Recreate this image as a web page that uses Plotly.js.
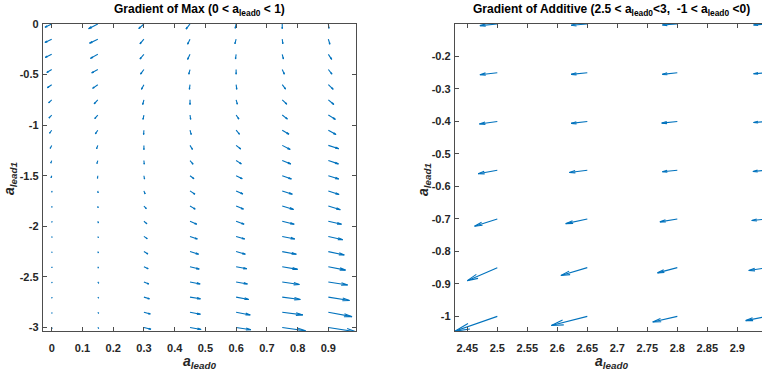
<!DOCTYPE html>
<html><head><meta charset="utf-8">
<script src="https://cdn.plot.ly/plotly-3.0.1.min.js"></script>
<style>html,body{margin:0;padding:0;overflow:hidden;background:#fff}#plot{width:780px;height:377px}</style>
</head><body><div id="plot"></div>
<script>
// ---------- Left panel: Gradient of Max ----------
const maxX = [0, 0.15, 0.3, 0.45, 0.6, 0.75, 0.9];
const maxY = [0,-0.15,-0.3,-0.45,-0.6,-0.75,-0.9,-1.05,-1.2,-1.35,-1.5,-1.65,-1.8,-1.95,-2.1,-2.25,-2.4,-2.55,-2.7,-2.85,-3.0];
// U, V per column (rows follow maxY)
const maxU = [
  [-0.022,-0.022,-0.021,-0.016,-0.014,-0.010,-0.009,-0.007,-0.005,-0.003,-0.002,0.001,0.001,0.001,0.001,0.001,0.001,0.001,0.001,0.001,0.001],
  [-0.030,-0.027,-0.024,-0.020,-0.017,-0.012,-0.010,-0.008,-0.004,-0.003,-0.001,0.001,0.001,0.002,0.002,0.002,0.002,0.003,0.003,0.003,0.003],
  [-0.017,-0.013,-0.013,-0.011,-0.008,-0.004,-0.003,-0.001,0,0.001,0.002,0.004,0.008,0.010,0.011,0.013,0.014,0.016,0.018,0.021,0.023],
  [-0.013,-0.008,-0.008,-0.004,-0.002,0,0.002,0.004,0.008,0.010,0.013,0.016,0.017,0.022,0.024,0.028,0.030,0.033,0.034,0.034,0.036],
  [-0.003,-0.004,-0.002,0,0.002,0.004,0.009,0.011,0.015,0.017,0.020,0.022,0.024,0.026,0.028,0.030,0.035,0.037,0.041,0.046,0.048],
  [0,0.002,0.004,0.007,0.011,0.015,0.017,0.022,0.026,0.028,0.030,0.033,0.037,0.039,0.041,0.046,0.050,0.056,0.059,0.067,0.076],
  [0.002,0.005,0.011,0.012,0.016,0.018,0.023,0.025,0.034,0.033,0.034,0.035,0.039,0.043,0.047,0.052,0.056,0.063,0.069,0.077,0.090]
];
const maxV = [
  [-0.033,-0.033,-0.030,-0.030,-0.030,-0.030,-0.030,-0.030,-0.030,-0.026,-0.020,-0.013,-0.013,-0.010,-0.010,-0.010,-0.010,-0.010,-0.010,-0.010,-0.010],
  [-0.046,-0.040,-0.040,-0.033,-0.036,-0.040,-0.036,-0.036,-0.033,-0.030,-0.026,-0.020,-0.017,-0.017,-0.013,-0.013,-0.013,-0.013,-0.010,-0.010,-0.010],
  [-0.046,-0.046,-0.046,-0.046,-0.046,-0.046,-0.043,-0.043,-0.043,-0.036,-0.033,-0.030,-0.026,-0.026,-0.023,-0.023,-0.020,-0.020,-0.017,-0.017,-0.017],
  [-0.050,-0.050,-0.050,-0.046,-0.046,-0.046,-0.043,-0.043,-0.040,-0.036,-0.030,-0.033,-0.030,-0.030,-0.026,-0.026,-0.023,-0.020,-0.017,-0.020,-0.020],
  [-0.043,-0.046,-0.046,-0.046,-0.046,-0.043,-0.040,-0.040,-0.036,-0.033,-0.030,-0.030,-0.030,-0.030,-0.026,-0.026,-0.020,-0.020,-0.023,-0.026,-0.023],
  [-0.046,-0.046,-0.046,-0.046,-0.043,-0.043,-0.040,-0.040,-0.040,-0.033,-0.033,-0.033,-0.033,-0.030,-0.026,-0.026,-0.026,-0.026,-0.023,-0.026,-0.033],
  [-0.043,-0.050,-0.050,-0.046,-0.046,-0.046,-0.043,-0.043,-0.033,-0.033,-0.033,-0.036,-0.036,-0.030,-0.033,-0.033,-0.033,-0.030,-0.033,-0.043,-0.043]
];
const maxXTicks = [0,0.1,0.2,0.3,0.4,0.5,0.6,0.7,0.8,0.9];
const maxXTickText = ['0','0.1','0.2','0.3','0.4','0.5','0.6','0.7','0.8','0.9'];
const maxYTicks = [0,-0.5,-1,-1.5,-2,-2.5,-3];
const maxYTickText = ['0','-0.5','-1','-1.5','-2','-2.5','-3'];

// ---------- Right panel: Gradient of Additive ----------
const addX = [2.5, 2.65, 2.8, 2.95];
const addY = [-0.1,-0.25,-0.4,-0.55,-0.7,-0.85,-1.0];
const addU = [
  [-0.029,-0.029,-0.030,-0.032,-0.038,-0.050,-0.0705],
  [-0.027,-0.027,-0.027,-0.030,-0.036,-0.044,-0.060],
  [-0.025,-0.025,-0.026,-0.025,-0.029,-0.033,-0.041],
  [-0.023,-0.023,-0.023,-0.024,-0.026,-0.031,-0.036]
];
const addV = [
  [-0.005,-0.006,-0.008,-0.011,-0.0225,-0.040,-0.0455],
  [-0.004,-0.005,-0.006,-0.007,-0.0145,-0.024,-0.028],
  [-0.003,-0.005,-0.005,-0.005,-0.009,-0.016,-0.0175],
  [-0.003,-0.003,-0.003,-0.004,-0.005,-0.009,-0.013]
];
const addXTicks = [2.45,2.5,2.55,2.6,2.65,2.7,2.75,2.8,2.85,2.9];
const addXTickText = ['2.45','2.5','2.55','2.6','2.65','2.7','2.75','2.8','2.85','2.9'];
const addYTicks = [-0.2,-0.3,-0.4,-0.5,-0.6,-0.7,-0.8,-0.9,-1];
const addYTickText = ['-0.2','-0.3','-0.4','-0.5','-0.6','-0.7','-0.8','-0.9','-1'];

// ---------- Layout geometry ----------
const W = 780, H = 377;
const yDom = [46/H, 353/H];
const x1Dom = [43/W, 356/W], x2Dom = [455/W, 767.3/W];
const x1Range = [-0.0283, 0.990], y1Range = [-3.035, 0];
const x2Range = [2.4295, 2.95], y2Range = [-1.045, -0.1];

const FONT = 'Liberation Sans Narrow, Liberation Sans, Arial, sans-serif';
const BLUE = '#0072BD';

function quiver(xs, ys, U, V, xa, ya, xDom, xR, yR) {
  const sx = (xDom[1]-xDom[0])*W/(xR[1]-xR[0]);
  const sy = (yDom[1]-yDom[0])*H/(yR[1]-yR[0]);
  const alpha = 0.33, beta = 0.2;
  const X = [], Y = [];
  xs.forEach((x0, i) => {
    ys.forEach((y0, j) => {
      const u = U[i][j], v = V[i][j];
      const x1 = x0 + u, y1 = y0 + v;
      X.push(x0, x1, null); Y.push(y0, y1, null);
      const pu = u*sx, pv = v*sy;
      X.push(x1 - alpha*(pu + beta*pv)/sx, x1, x1 - alpha*(pu - beta*pv)/sx, null);
      Y.push(y1 - alpha*(pv - beta*pu)/sy, y1, y1 - alpha*(pv + beta*pu)/sy, null);
    });
  });
  return {type:'scatter', mode:'lines', x:X, y:Y, xaxis:xa, yaxis:ya,
          line:{color:BLUE, width:1.1}, hoverinfo:'skip', showlegend:false, connectgaps:false};
}

const traces = [
  quiver(maxX, maxY, maxU, maxV, 'x', 'y', x1Dom, x1Range, y1Range),
  quiver(addX, addY, addU, addV, 'x2', 'y2', x2Dom, x2Range, y2Range)
];

function axis(dom, range, tv, tt, anchor, standoff) {
  return {domain: dom, range: range, anchor: anchor, tickmode:'array', tickvals: tv, ticktext: tt,
    showline:true, linecolor:'#4d4d4d', linewidth:1.2, mirror:'ticks', ticks:'inside', ticklen:4,
    tickcolor:'#4d4d4d', tickwidth:1, showgrid:false, zeroline:false, fixedrange:true,
    ticklabelstandoff: standoff,
    tickfont:{family:FONT, size:11, color:'#262626', weight:'bold'}};
}

const tFont = {family:FONT, size:12, color:'#000', weight:'bold'};
const lFont = {family:FONT, size:14, color:'#262626', weight:'bold'};
const layout = {
  width: W, height: H, margin:{l:0,r:0,t:0,b:0}, paper_bgcolor:'#fff', plot_bgcolor:'#fff',
  showlegend:false,
  xaxis: axis(x1Dom, x1Range, maxXTicks, maxXTickText, 'y', 7),
  yaxis: axis(yDom, y1Range, maxYTicks, maxYTickText, 'x', 1),
  xaxis2: axis(x2Dom, x2Range, addXTicks, addXTickText, 'y2', 7),
  yaxis2: axis(yDom, y2Range, addYTicks, addYTickText, 'x2', 1),
  annotations: [
    {text:'Gradient of Max (0 < a<sub>lead0</sub> < 1)', xref:'paper', yref:'paper',
     x:(x1Dom[0]+x1Dom[1])/2, y:(H-10)/H, xanchor:'center', yanchor:'middle', showarrow:false, font:tFont},
    {text:'Gradient of Additive (2.5 < a<sub>lead0</sub><3,  -1 < a<sub>lead0</sub> <0)', xref:'paper', yref:'paper',
     x:(x2Dom[0]+x2Dom[1])/2, y:(H-10)/H, xanchor:'center', yanchor:'middle', showarrow:false, font:tFont},
    {text:'<i>a</i><sub><i>lead0</i></sub>', xref:'paper', yref:'paper',
     x:(x1Dom[0]+x1Dom[1])/2, y:(H-362)/H, xanchor:'center', yanchor:'middle', showarrow:false, font:lFont},
    {text:'<i>a</i><sub><i>lead0</i></sub>', xref:'paper', yref:'paper',
     x:(x2Dom[0]+x2Dom[1])/2, y:(H-362)/H, xanchor:'center', yanchor:'middle', showarrow:false, font:lFont},
    {text:'<i>a</i><sub><i>lead1</i></sub>', xref:'paper', yref:'paper', textangle:-90,
     x:10/W, y:(H-179)/H, xanchor:'center', yanchor:'middle', showarrow:false, font:lFont},
    {text:'<i>a</i><sub><i>lead1</i></sub>', xref:'paper', yref:'paper', textangle:-90,
     x:424/W, y:(H-179)/H, xanchor:'center', yanchor:'middle', showarrow:false, font:lFont}
  ]
};

Plotly.newPlot('plot', traces, layout, {staticPlot:true, displayModeBar:false});
</script></body></html>
